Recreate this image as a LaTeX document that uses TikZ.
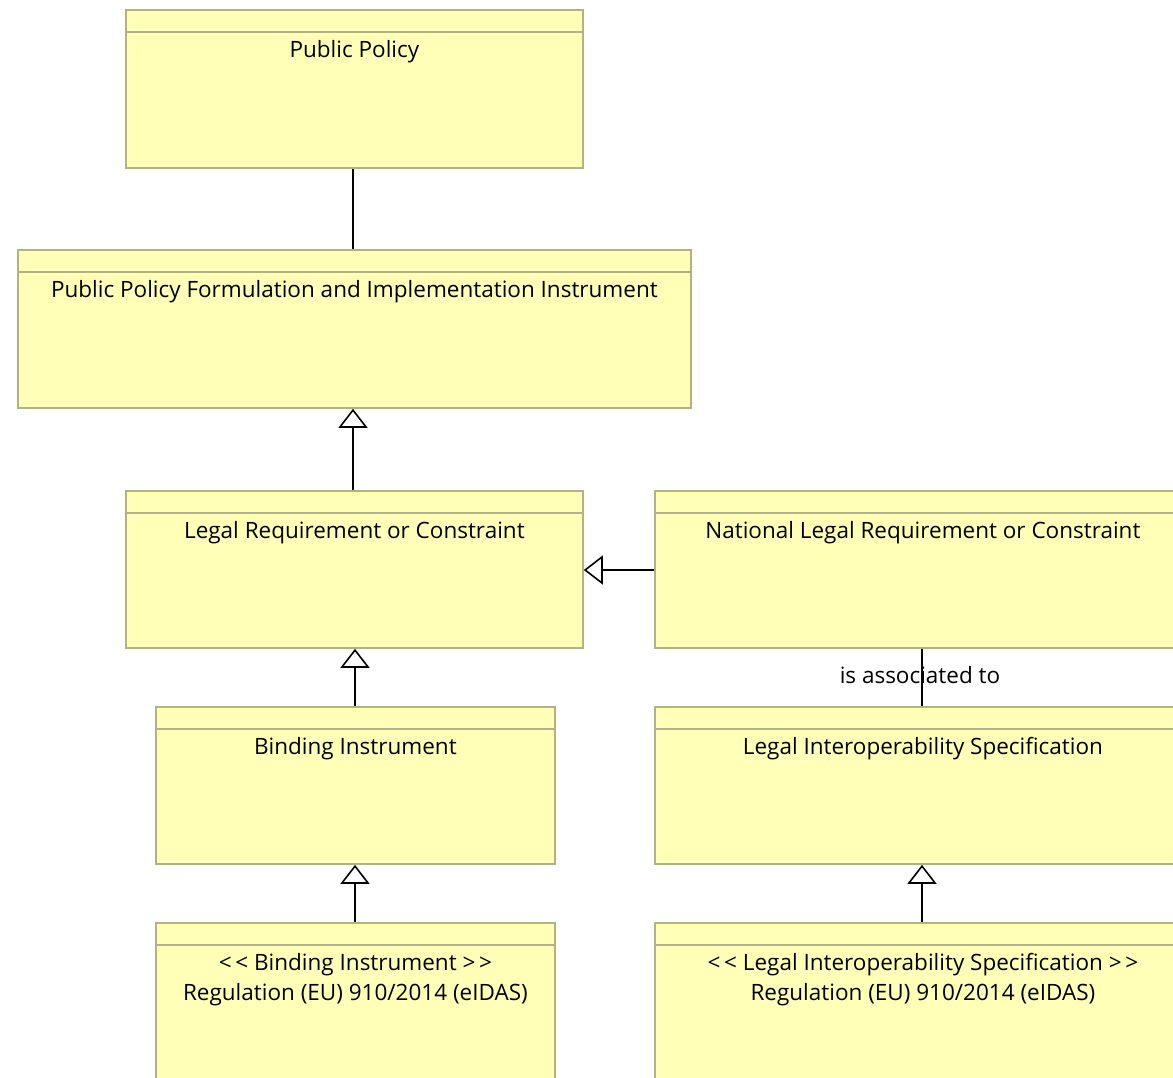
\documentclass[tikz,border=0pt]{standalone}
\usepackage{fontspec}
\setmainfont{Open Sans}
\usetikzlibrary{arrows.meta}
\definecolor{boxfill}{RGB}{255,255,183}
\definecolor{boxline}{RGB}{178,178,136}
\tikzset{
  umlbox/.style={draw=boxline, fill=boxfill, line width=1.8pt, rectangle, anchor=north west, inner sep=0pt},
  title/.style={anchor=base, font=\fontsize{22.5}{30}\selectfont, align=center, inner sep=0pt},
  gen/.style={draw=black, line width=2pt, -{Triangle[open, length=19pt, width=29pt, line width=1.6pt]}},
  assoc/.style={draw=black, line width=2pt},
  lbl/.style={font=\fontsize{22.5}{26}\selectfont, inner sep=0pt, anchor=base}
}
\newcommand{\umlnode}[7]{% name, x, y, w, h, text, baseline offset
  \node[umlbox, minimum width=#4pt, minimum height=#5pt] (#1) at (#2pt,-#3pt) {};
  \draw[boxline, line width=1.8pt] ([yshift=-23pt]#1.north west) -- ([yshift=-23pt]#1.north east);
  \node[title] (#1-t) at ([yshift=-#7pt]#1.north) {#6};
}
\begin{document}
\begin{tikzpicture}
\useasboundingbox (0,0) rectangle (1173pt,-1077pt);
\clip (0,0) rectangle (1173pt,-1077pt);
\fill[white] (0,0) rectangle (1173pt,-1077pt);
\umlnode{pp}{125}{9}{457}{158}{Public Policy}{48}
\umlnode{ppfii}{17}{249}{673}{158}{Public Policy Formulation and Implementation Instrument}{48}
\umlnode{lrc}{125}{490}{457}{157}{Legal Requirement or Constraint}{48}
\umlnode{nlrc}{654}{490}{536}{157}{National Legal Requirement or Constraint}{48}
\umlnode{bi}{155}{706}{399}{157}{Binding Instrument}{48}
\umlnode{lis}{654}{706}{536}{157}{Legal Interoperability Specification}{48}
\umlnode{bireg}{155}{922}{399}{170}{\mbox{<}\,\mbox{<} Binding Instrument \mbox{>}\,\mbox{>}\\Regulation (EU) 910/2014 (eIDAS)}{78}
\umlnode{lisreg}{654}{922}{536}{170}{\mbox{<}\,\mbox{<} Legal Interoperability Specification \mbox{>}\,\mbox{>}\\Regulation (EU) 910/2014 (eIDAS)}{78}

\draw[assoc] (pp.south -| 353pt,0) -- (ppfii.north -| 353pt,0);
\draw[gen] (lrc.north -| 353pt,0) -- (ppfii.south -| 353pt,0);
\draw[gen] (nlrc.west |- 0,-570pt) -- (lrc.east |- 0,-570pt);
\draw[gen] (bi.north -| 355pt,0) -- (lrc.south -| 355pt,0);
\draw[assoc] (nlrc.south -| 922pt,0) -- (lis.north -| 922pt,0);
\node[lbl] (assoclbl) at (920pt,-683pt) {is associated to};
\draw[gen] (bireg.north -| 355pt,0) -- (bi.south -| 355pt,0);
\draw[gen] (lisreg.north -| 922pt,0) -- (lis.south -| 922pt,0);
\end{tikzpicture}
\end{document}
